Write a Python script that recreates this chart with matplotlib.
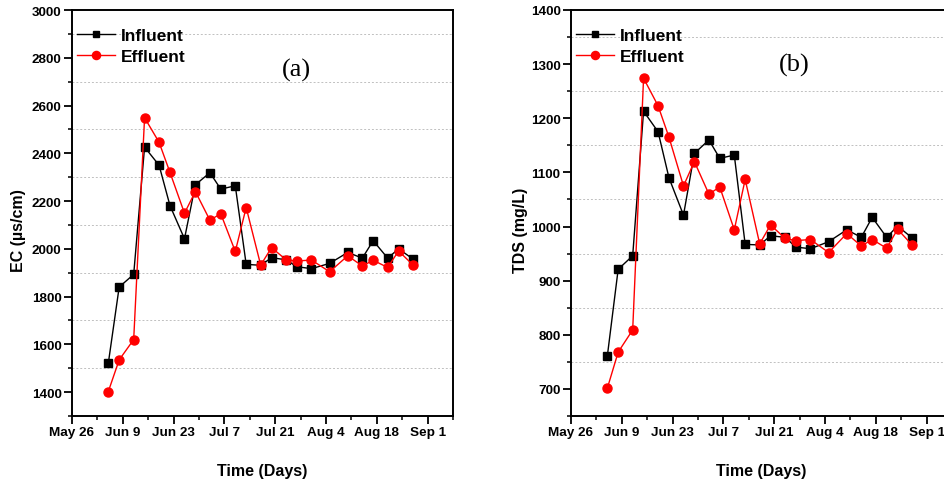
import matplotlib
matplotlib.use("Agg")
import matplotlib.pyplot as plt
import matplotlib.ticker as mticker
from datetime import datetime, timedelta

plt.rcParams['font.family'] = ['Liberation Sans', 'DejaVu Sans']

# ---- data ----
dates = ["2019-06-05", "2019-06-08", "2019-06-12", "2019-06-15", "2019-06-19", "2019-06-22",
         "2019-06-26", "2019-06-29", "2019-07-03", "2019-07-06", "2019-07-10", "2019-07-13",
         "2019-07-17", "2019-07-20", "2019-07-24", "2019-07-27", "2019-07-31", "2019-08-05",
         "2019-08-10", "2019-08-14", "2019-08-17", "2019-08-21", "2019-08-24", "2019-08-28"]

ec_influent = [1520, 1840, 1893, 2426, 2350, 2181, 2042, 2268, 2319, 2250, 2264, 1935,
               1931, 1963, 1954, 1925, 1917, 1939, 1985, 1961, 2034, 1961, 2000, 1957]
ec_effluent = [1402, 1535, 1620, 2549, 2446, 2320, 2149, 2240, 2120, 2147, 1989, 2173,
               1932, 2005, 1954, 1949, 1953, 1904, 1971, 1928, 1952, 1922, 1991, 1932]

tds_influent = [760, 921, 946, 1213, 1175, 1090, 1021, 1135, 1160, 1126, 1132, 967,
                966, 983, 980, 962, 959, 972, 994, 980, 1017, 980, 1001, 979]
tds_effluent = [701, 768, 809, 1274, 1223, 1165, 1075, 1120, 1060, 1073, 994, 1087,
                968, 1003, 978, 974, 976, 952, 987, 964, 976, 960, 995, 966]

xtick_dates = ["2019-05-26", "2019-06-09", "2019-06-23", "2019-07-07", "2019-07-21",
               "2019-08-04", "2019-08-18", "2019-09-01"]
xtick_labels = ["May 26", "Jun 9", "Jun 23", "Jul 7", "Jul 21", "Aug 4", "Aug 18", "Sep 1"]

series_labels = ["Influent", "Effluent"]
panel_labels = ["(a)", "(b)"]
ylabels = ["EC (\u00b5s/cm)", "TDS (mg/L)"]
xlabel = "Time (Days)"

x = [datetime.strptime(d, "%Y-%m-%d") for d in dates]
xt = [datetime.strptime(d, "%Y-%m-%d") for d in xtick_dates]
xminor = [t + timedelta(days=7) for t in xt]

fig = plt.figure(figsize=(9.44, 4.85), dpi=100)
W, H = 944, 485

def make_ax(left_px, right_px, top_px, bottom_px):
    return fig.add_axes([left_px / W, (H - bottom_px) / H, (right_px - left_px) / W,
                         (bottom_px - top_px) / H])

ax1 = make_ax(72, 453, 11, 417)
ax2 = make_ax(571, 952, 11, 417)

configs = [
    (ax1, ec_influent, ec_effluent, (1300, 3000), 200, 100, ylabels[0], panel_labels[0], (0.59, 0.853)),
    (ax2, tds_influent, tds_effluent, (650, 1400), 100, 50, ylabels[1], panel_labels[1], (0.585, 0.865)),
]

for ax, inf, eff, ylim, major, minor, ylab, plab, plab_pos in configs:
    ax.plot(x, inf, color='black', marker='s', markersize=5.5, linewidth=1.0,
            label=series_labels[0], zorder=3)
    ax.plot(x, eff, color='red', marker='o', markersize=6.5, linewidth=1.0,
            label=series_labels[1], zorder=4)
    ax.set_xlim(datetime(2019, 5, 26), datetime(2019, 9, 8))
    ax.set_ylim(*ylim)
    ax.set_xticks(xt)
    ax.set_xticklabels(xtick_labels)
    ax.set_xticks(xminor, minor=True)
    ax.yaxis.set_major_locator(mticker.MultipleLocator(major))
    ax.yaxis.set_minor_locator(mticker.MultipleLocator(minor))
    for v in range(ylim[0], ylim[1] + 1, minor):
        if v % major != 0 and ylim[0] < v < ylim[1]:
            ax.axhline(v, color='#c0c0c0', linestyle=(0, (2, 2)), linewidth=0.7, zorder=1)
    for s in ax.spines.values():
        s.set_linewidth(1.4)
    ax.tick_params(axis='both', which='major', direction='out', length=5.5, width=1.3,
                   labelsize=9.7, pad=2)
    ax.tick_params(axis='both', which='minor', direction='out', length=3, width=1.1)
    for lab in ax.get_xticklabels() + ax.get_yticklabels():
        lab.set_fontweight('bold')
    ax.set_ylabel(ylab, fontsize=11.5, fontweight='bold')
    ax.set_xlabel(xlabel, fontsize=11.5, fontweight='bold')
    ax.xaxis.set_label_coords(0.5, -0.115)
    ax.text(plab_pos[0], plab_pos[1], plab, transform=ax.transAxes, ha='center', va='center',
            fontsize=19, family=['Liberation Serif', 'DejaVu Serif'])
    ax.legend(loc='upper left', bbox_to_anchor=(-0.005, 0.972), frameon=False,
              handlelength=2.2, borderaxespad=0, labelspacing=0.3, handletextpad=0.35,
              markerscale=0.9, prop={'weight': 'bold', 'size': 12.5})

ax1.yaxis.set_label_coords(-0.12, 0.46)
ax2.yaxis.set_label_coords(-0.113, 0.46)

fig.savefig("out.png", dpi=100)
